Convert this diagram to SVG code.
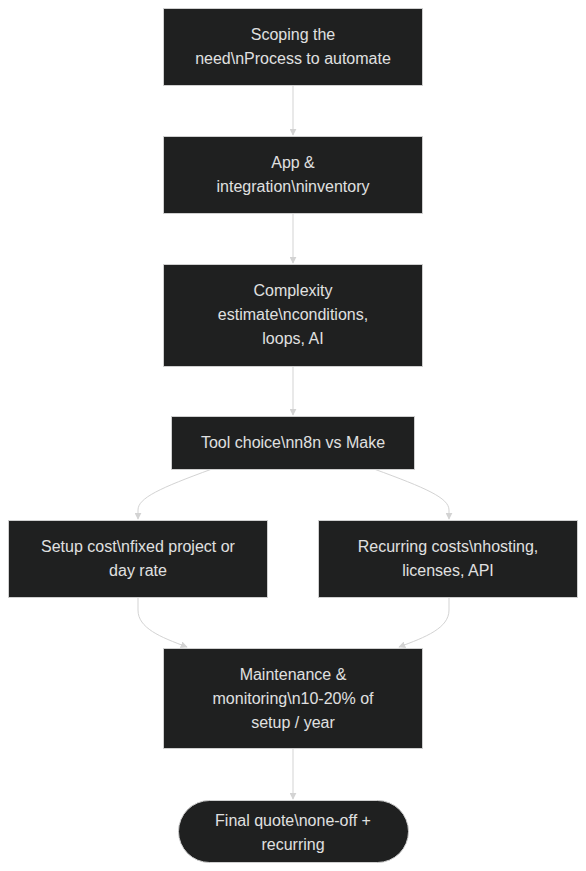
<svg xmlns="http://www.w3.org/2000/svg" width="586" height="871" viewBox="0 0 586 871">
<style>
.node rect{fill:#1f2020;stroke:#cfcfcf;stroke-width:1}
.node text{font-family:"Liberation Sans",Arial,sans-serif;font-size:16px;fill:#e0e0e0;text-anchor:middle}
.edge{fill:none;stroke:#d3d3d3;stroke-width:1}
</style>
<defs>
<marker id="arr" viewBox="0 0 10 10" refX="9" refY="5" markerWidth="7" markerHeight="7" markerUnits="userSpaceOnUse" orient="auto">
<path d="M0,0 L10,5 L0,10 z" fill="#d3d3d3"/>
</marker>
</defs>
<rect width="586" height="871" fill="#ffffff"/>
<g id="edges">
<path class="edge" d="M293,85 L293,135" marker-end="url(#arr)"/>
<path class="edge" d="M293,213 L293,263" marker-end="url(#arr)"/>
<path class="edge" d="M293,367 L293,415" marker-end="url(#arr)"/>
<path class="edge" d="M212,469 C160,488 138,498 138,510 L138,519" marker-end="url(#arr)"/>
<path class="edge" d="M374,469 C426,488 449,498 449,510 L449,519" marker-end="url(#arr)"/>
<path class="edge" d="M138,597 L138,610 C138,628 160,637 187,647" marker-end="url(#arr)"/>
<path class="edge" d="M449,597 L449,610 C449,628 426,637 399,647" marker-end="url(#arr)"/>
<path class="edge" d="M293,748 L293,799" marker-end="url(#arr)"/>
</g>
<g id="n1" class="node">
<rect x="163.5" y="8.5" width="259" height="77"/>
<text x="293" y="40">Scoping the</text>
<text x="293" y="64">need\nProcess to automate</text>
</g>
<g id="n2" class="node">
<rect x="163.5" y="136.5" width="259" height="77"/>
<text x="293" y="168">App &amp;</text>
<text x="293" y="192">integration\ninventory</text>
</g>
<g id="n3" class="node">
<rect x="163.5" y="264.5" width="259" height="102"/>
<text x="293" y="296">Complexity</text>
<text x="293" y="320">estimate\nconditions,</text>
<text x="293" y="344">loops, AI</text>
</g>
<g id="n4" class="node">
<rect x="171.5" y="416.5" width="243" height="53"/>
<text x="293" y="448">Tool choice\nn8n vs Make</text>
</g>
<g id="n5" class="node">
<rect x="8.5" y="520.5" width="259" height="77"/>
<text x="138" y="552">Setup cost\nfixed project or</text>
<text x="138" y="576">day rate</text>
</g>
<g id="n6" class="node">
<rect x="318.5" y="520.5" width="259" height="77"/>
<text x="448" y="552">Recurring costs\nhosting,</text>
<text x="448" y="576">licenses, API</text>
</g>
<g id="n7" class="node">
<rect x="163.5" y="648.5" width="259" height="100"/>
<text x="293" y="680">Maintenance &amp;</text>
<text x="293" y="704">monitoring\n10-20% of</text>
<text x="293" y="728">setup / year</text>
</g>
<g id="n8" class="node">
<rect x="178.5" y="800.5" width="230" height="62" rx="31" ry="31"/>
<text x="293" y="826">Final quote\none-off +</text>
<text x="293" y="850">recurring</text>
</g>
</svg>
